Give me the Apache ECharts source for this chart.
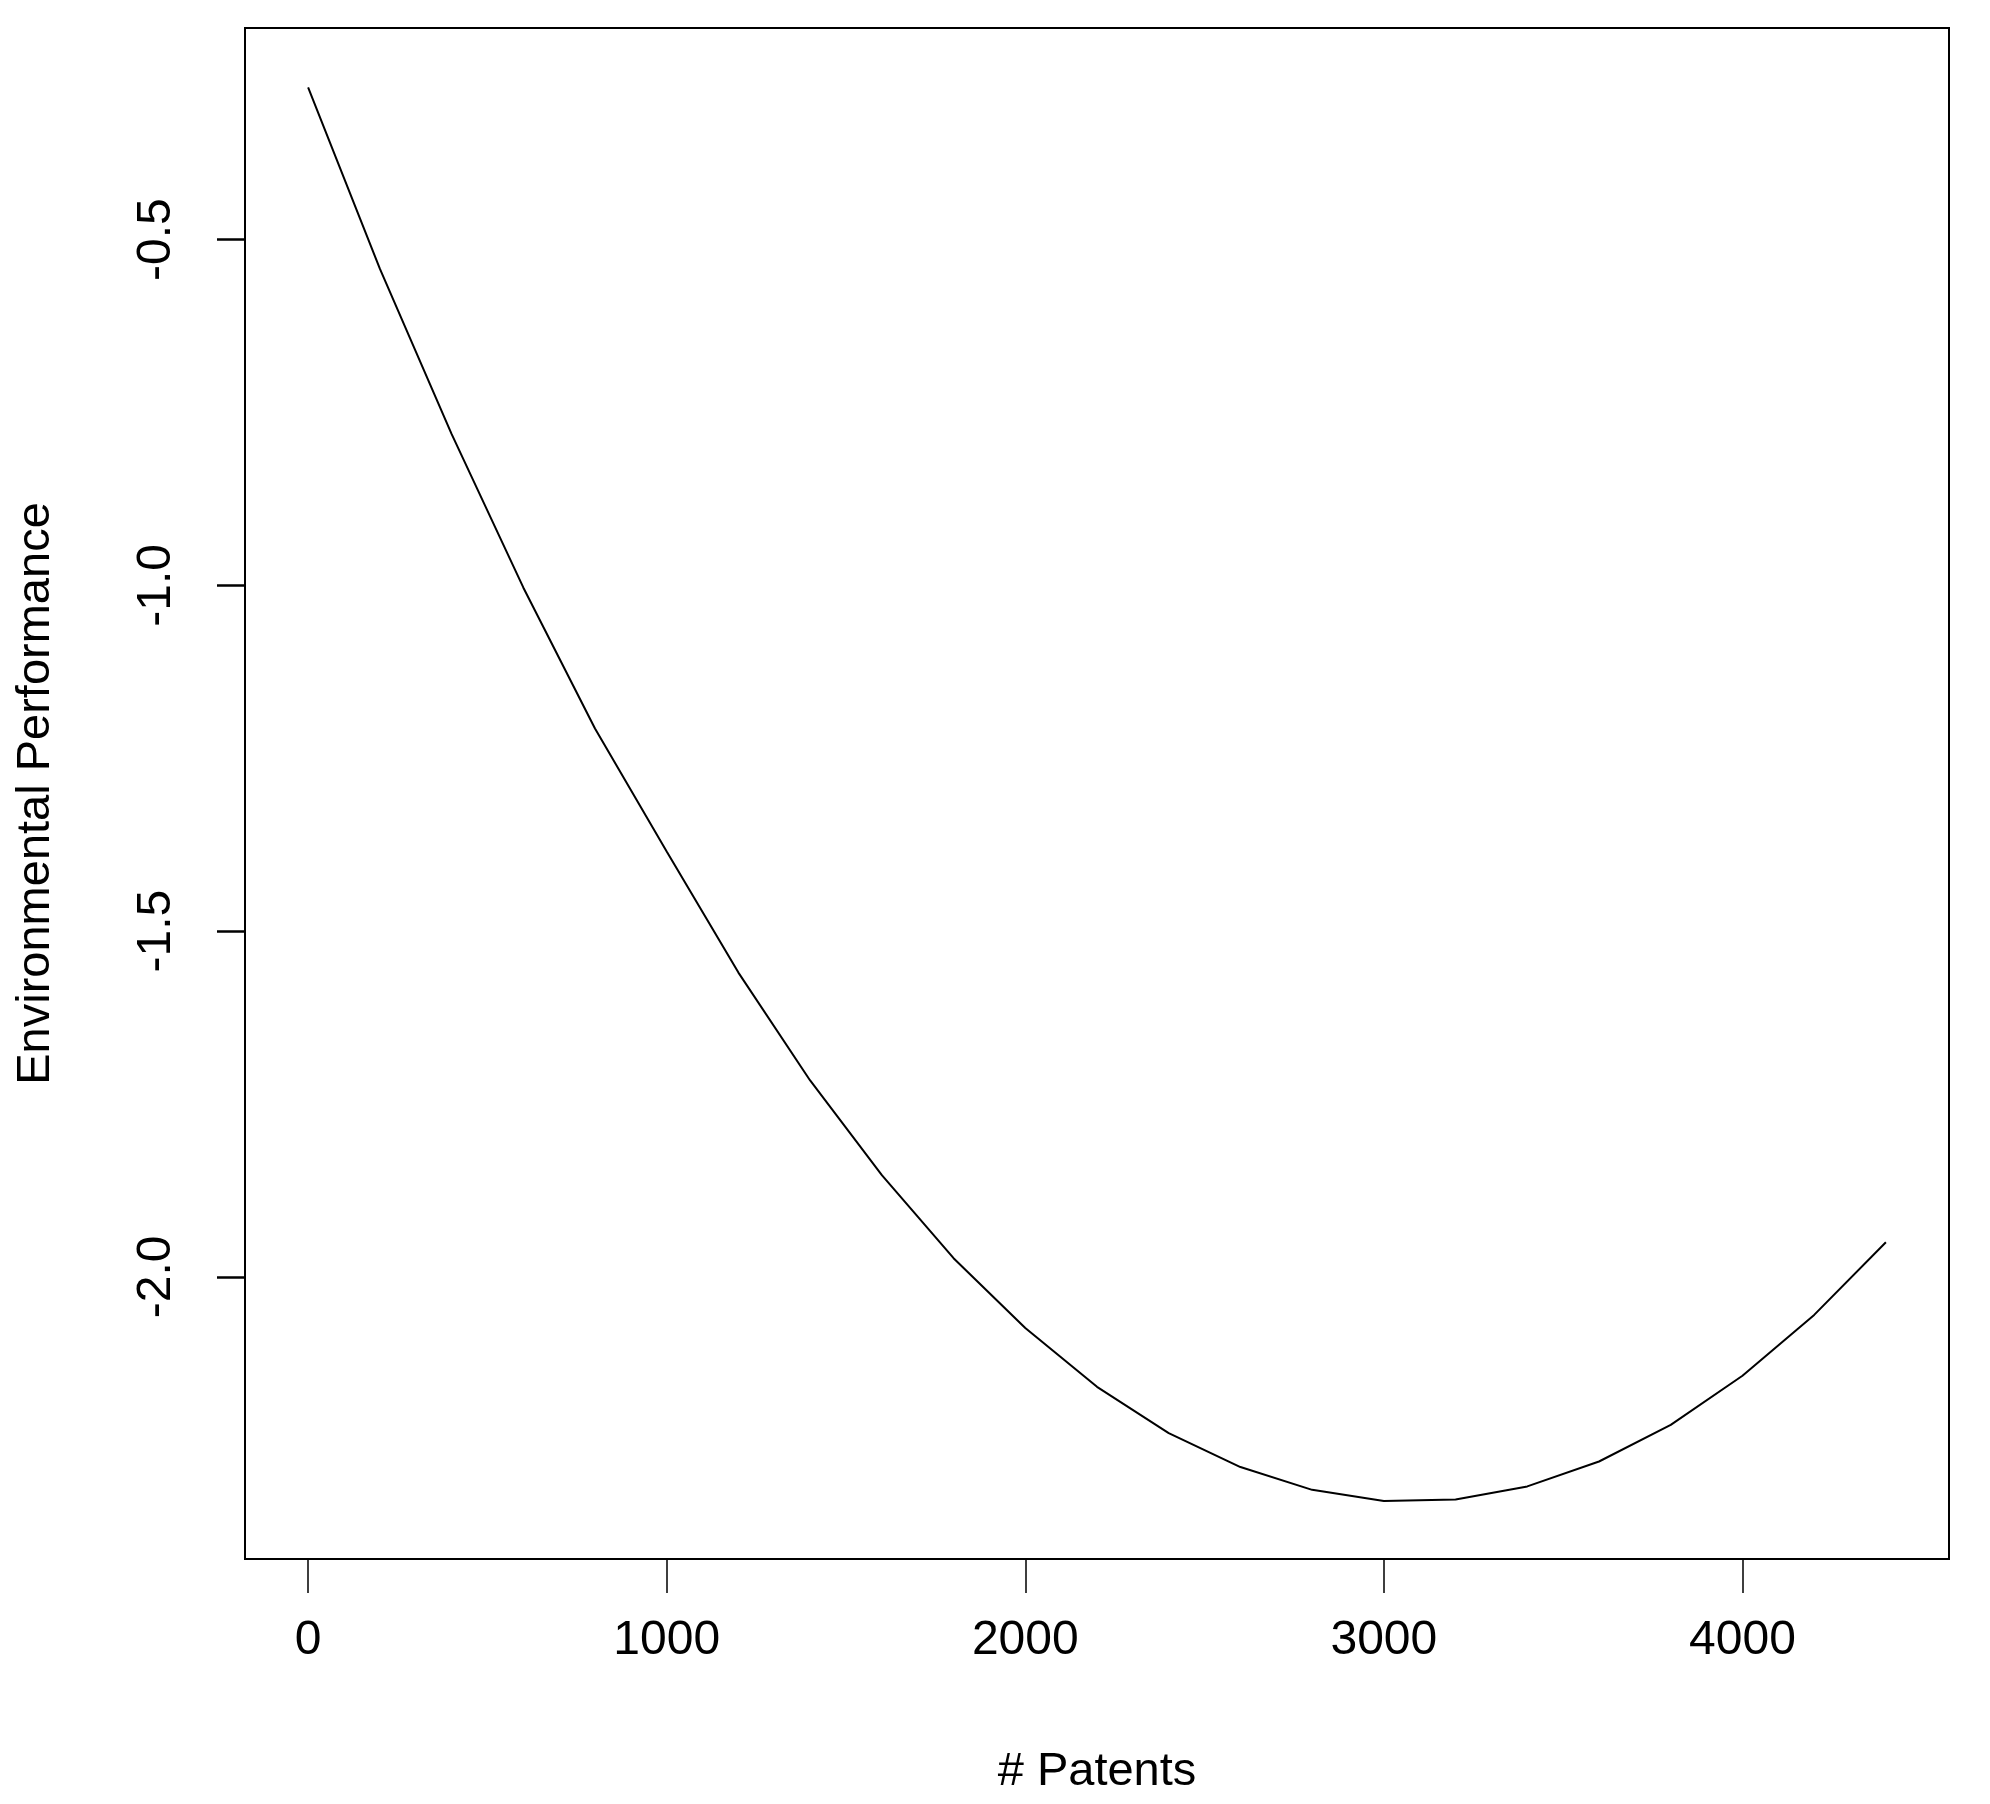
<!DOCTYPE html>
<html><head><meta charset="utf-8">
<script src="https://cdn.jsdelivr.net/npm/echarts@6/dist/echarts.min.js"></script>
<style>html,body{margin:0;padding:0;background:#fff}#c{width:1990px;height:1804px}</style>
</head><body><div id="c"></div>
<script>
const patents = [0,200,400,600,800,1000,1200,1400,1600,1800,2000,2200,2400,2600,2800,3000,3200,3400,3600,3800,4000,4200,4400];
const performance = [-0.28,-0.542,-0.781,-1.003,-1.207,-1.385,-1.560,-1.716,-1.853,-1.973,-2.074,-2.159,-2.226,-2.275,-2.308,-2.324,-2.322,-2.303,-2.267,-2.214,-2.143,-2.055,-1.950];
const xTicks = [0,1000,2000,3000,4000];
const yTicks = [-2.0,-1.5,-1.0,-0.5];
const font = 'Liberation Sans, Arial, sans-serif';
const chart = echarts.init(document.getElementById('c'));
chart.setOption({
  animation:false,
  grid:{left:245,right:41,top:28,bottom:245,show:true,borderColor:'#000',borderWidth:2,backgroundColor:'transparent'},
  xAxis:{type:'value',min:-176,max:4576,
    name:'# Patents',nameLocation:'middle',nameGap:190,
    nameTextStyle:{fontFamily:font,fontSize:47,color:'#000'},
    axisLine:{show:false,onZero:false},splitLine:{show:false},
    axisTick:{show:true,inside:false,length:34,lineStyle:{color:'#000',width:1.5},customValues:xTicks},
    axisLabel:{fontFamily:font,fontSize:48,color:'#000',margin:58,customValues:xTicks,formatter:v=>String(v)}},
  yAxis:{type:'value',min:-2.408,max:-0.194,
    name:'Environmental Performance',nameLocation:'middle',nameGap:185,
    nameTextStyle:{fontFamily:font,fontSize:47,color:'#000'},
    axisLine:{show:false,onZero:false},splitLine:{show:false},
    axisTick:{show:true,inside:false,length:28,lineStyle:{color:'#000',width:2.5},customValues:yTicks},
    axisLabel:{fontFamily:font,fontSize:48,color:'#000',margin:64,rotate:90,customValues:yTicks,formatter:v=>v.toFixed(1)}},
  series:[{type:'line',data:patents.map((x,i)=>[x,performance[i]]),smooth:false,showSymbol:false,
    lineStyle:{color:'#000',width:2}}]
});
</script></body></html>
